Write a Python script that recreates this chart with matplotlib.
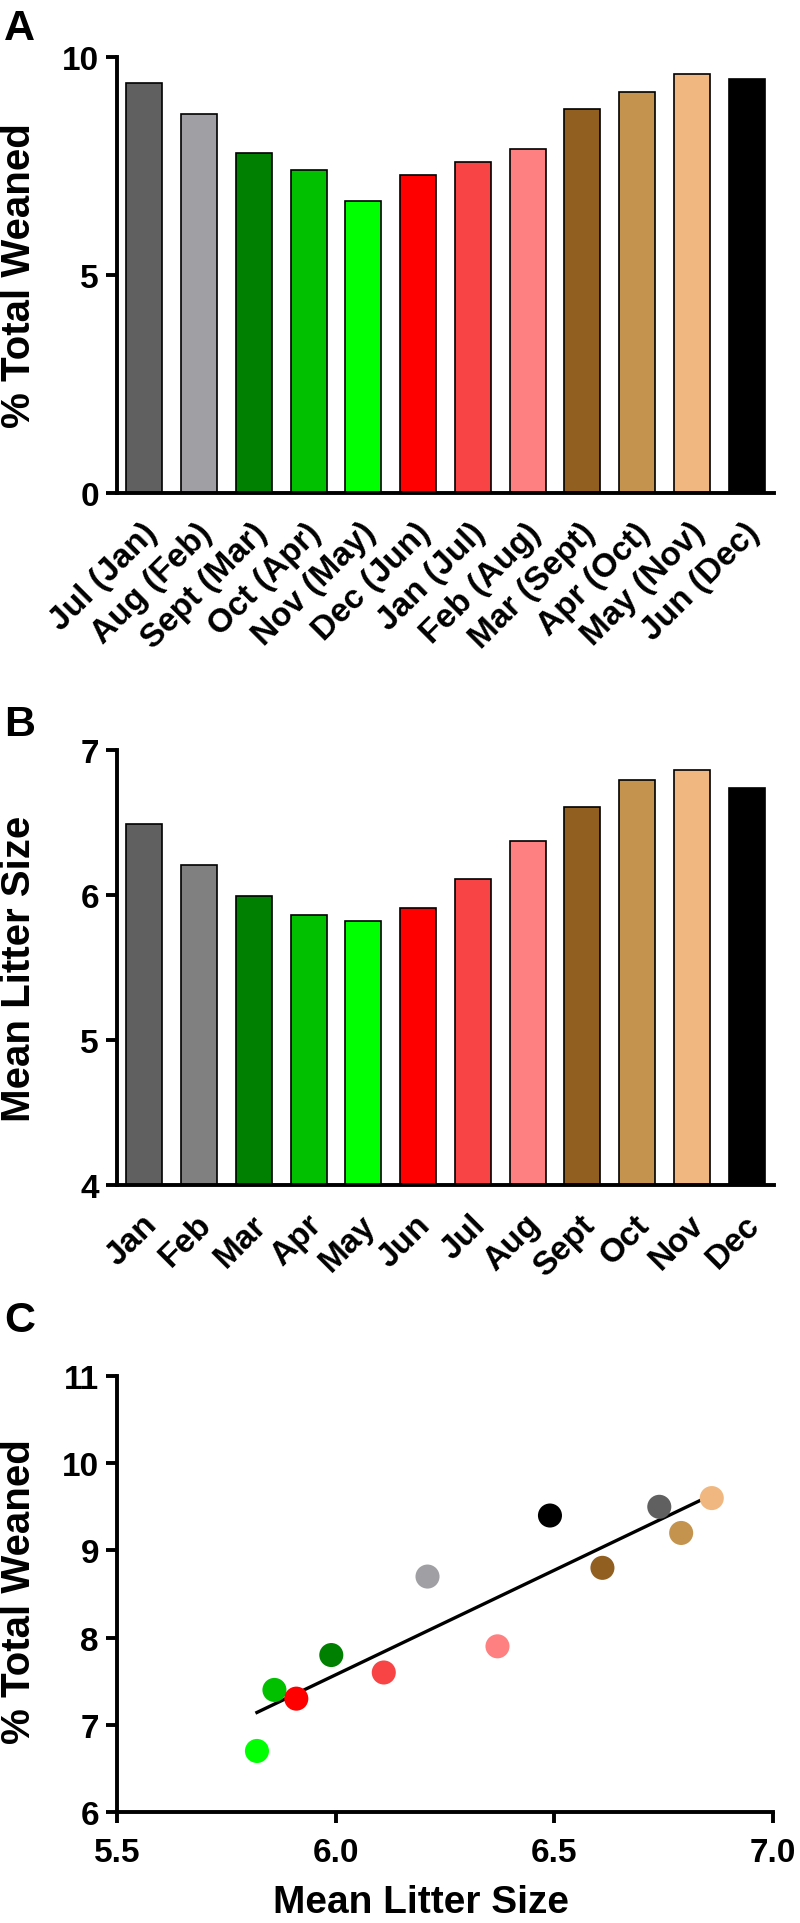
import numpy as np
import matplotlib
matplotlib.use("Agg")
import matplotlib.pyplot as plt
import matplotlib.transforms as mtransforms

plt.rcParams['font.family'] = ['Liberation Sans', 'DejaVu Sans']
plt.rcParams['font.weight'] = 'bold'

# ---------------- data ----------------
weaned_labels = ["Jul (Jan)", "Aug (Feb)", "Sept (Mar)", "Oct (Apr)", "Nov (May)", "Dec (Jun)",
                 "Jan (Jul)", "Feb (Aug)", "Mar (Sept)", "Apr (Oct)", "May (Nov)", "Jun (Dec)"]
weaned = [9.4, 8.7, 7.8, 7.4, 6.7, 7.3, 7.6, 7.9, 8.8, 9.2, 9.6, 9.5]
weaned_colors = ["#606060", "#A0A0A4", "#008000", "#00C000", "#00FF00", "#FF0000",
                 "#F84444", "#FF8080", "#915F20", "#C4944F", "#F0B880", "#000000"]

litter_labels = ["Jan", "Feb", "Mar", "Apr", "May", "Jun",
                 "Jul", "Aug", "Sept", "Oct", "Nov", "Dec"]
litter = [6.49, 6.21, 5.99, 5.86, 5.82, 5.91, 6.11, 6.37, 6.61, 6.79, 6.86, 6.74]
litter_colors = ["#606060", "#808080", "#008000", "#00C000", "#00FF00", "#FF0000",
                 "#F84444", "#FF8080", "#915F20", "#C4944F", "#F0B880", "#000000"]

# scatter: x = litter size, y = % weaned, same month order
scatter_colors = ["#000000", "#A0A0A4", "#008000", "#00C000", "#00FF00", "#FF0000",
                  "#F84444", "#FF8080", "#915F20", "#C4944F", "#F0B880", "#606060"]

W, H = 800, 1924
fig = plt.figure(figsize=(W / 100, H / 100), dpi=100)


def box(left, top, right, bottom):
    return [left / W, 1 - bottom / H, (right - left) / W, (bottom - top) / H]


def style_axes(ax):
    for s in ["top", "right"]:
        ax.spines[s].set_visible(False)
    for s in ["left", "bottom"]:
        ax.spines[s].set_linewidth(2.8)
    ax.tick_params(axis="both", width=2.8, length=8, labelsize=24, pad=5)
    for lab in ax.get_yticklabels():
        lab.set_fontweight("bold")


def bar_panel(ax, labels, values, colors, ylim, yticks):
    x = np.arange(len(values))
    ax.bar(x, values, width=0.66, color=colors, edgecolor="black", linewidth=1.2)
    ax.set_xlim(-0.5, len(values) - 0.5)
    ax.set_ylim(*ylim)
    ax.set_yticks(yticks)
    ax.set_xticks(x)
    ax.set_xticklabels(labels, rotation=45, ha="right", va="top",
                       rotation_mode="anchor", fontsize=21, fontweight="bold")
    style_axes(ax)
    ax.tick_params(axis="x", length=0, pad=17)
    shift = mtransforms.ScaledTranslation(-0.03, 0, fig.dpi_scale_trans)
    for lab in ax.get_xticklabels():
        lab.set_transform(lab.get_transform() + shift)


# =====================================================
# A. % TOTAL WEANED
# =====================================================
axA = fig.add_axes(box(117, 58, 774, 494))
bar_panel(axA, weaned_labels, weaned, weaned_colors, (0, 10), [0, 5, 10])
axA.set_ylabel("% Total Weaned", fontsize=29, fontweight="bold")
axA.yaxis.set_label_coords(-0.12, 0.5)

# =====================================================
# B. MEAN LITTER SIZE
# =====================================================
axB = fig.add_axes(box(117, 751, 774, 1186))
bar_panel(axB, litter_labels, litter, litter_colors, (4, 7), [4, 5, 6, 7])
axB.set_ylabel("Mean Litter Size", fontsize=29, fontweight="bold")
axB.yaxis.set_label_coords(-0.12, 0.5)

# =====================================================
# C. CORRELATION
# =====================================================
axC = fig.add_axes(box(117, 1377, 773, 1813))
axC.scatter(litter, weaned, s=300, c=scatter_colors, edgecolors="none", zorder=3)
slope, intercept = np.polyfit(litter, weaned, 1)
xs = np.array([min(litter), max(litter)])
axC.plot(xs, slope * xs + intercept, color="black", linewidth=2.4, zorder=2)
axC.set_xlim(5.5, 7.0)
axC.set_ylim(6, 11)
axC.set_xticks([5.5, 6.0, 6.5, 7.0])
axC.set_xticklabels(["5.5", "6.0", "6.5", "7.0"])
axC.set_yticks([6, 7, 8, 9, 10, 11])
style_axes(axC)
axC.tick_params(axis="x", pad=10)
for lab in axC.get_xticklabels():
    lab.set_fontweight("bold")
axC.set_ylabel("% Total Weaned", fontsize=29, fontweight="bold")
axC.yaxis.set_label_coords(-0.12, 0.507)
axC.set_xlabel("Mean Litter Size", fontsize=28, fontweight="bold")
axC.xaxis.set_label_coords(0.463, -0.165)
axC.xaxis.label.set_va("top")

# panel letters
fig.text(4 / W, 1 - 40 / H, "A", fontsize=31, fontweight="bold")
fig.text(4 / W, 1 - 736 / H, "B", fontsize=31, fontweight="bold")
fig.text(4 / W, 1 - 1332 / H, "C", fontsize=31, fontweight="bold")

fig.savefig("out.png", dpi=100)
